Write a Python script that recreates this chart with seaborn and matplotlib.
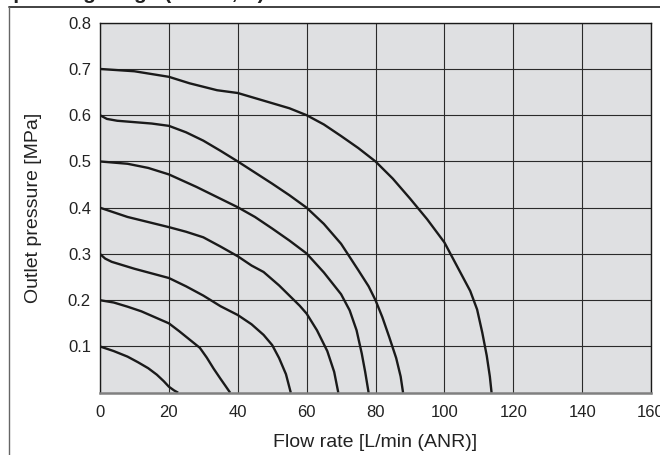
import pandas as pd
import seaborn as sns
import matplotlib.pyplot as plt
from matplotlib.lines import Line2D

# Curves: flow rate [L/min (ANR)] vs outlet pressure [MPa]
c07_x = [0, 10, 20, 26, 34, 40, 50, 55, 60, 65, 70, 75, 80, 85, 90, 95, 100, 102.5, 105, 107.5, 109.5, 111, 112.3, 113.2, 113.7]
c07_p = [0.70, 0.695, 0.683, 0.669, 0.654, 0.648, 0.626, 0.615, 0.600, 0.580, 0.555, 0.529, 0.500, 0.463, 0.420, 0.375, 0.325, 0.29, 0.255, 0.22, 0.18, 0.13, 0.08, 0.035, 0.0]

c06_x = [0, 2, 5, 10, 15, 20, 25, 30, 35, 40, 45, 50, 55, 60, 65, 70, 75, 78, 80, 82, 84, 86, 87.3, 88]
c06_p = [0.60, 0.592, 0.588, 0.585, 0.582, 0.577, 0.563, 0.545, 0.523, 0.50, 0.476, 0.452, 0.427, 0.40, 0.365, 0.322, 0.265, 0.23, 0.20, 0.163, 0.12, 0.075, 0.035, 0.0]

c05_x = [0, 8, 14, 20, 28, 34, 40, 45, 50, 55, 60, 65, 70, 72.5, 74.5, 76, 77, 78]
c05_p = [0.50, 0.495, 0.486, 0.472, 0.445, 0.423, 0.401, 0.38, 0.355, 0.329, 0.301, 0.26, 0.213, 0.178, 0.135, 0.085, 0.045, 0.0]

c04_x = [0, 4, 8, 14, 20, 25, 30, 35, 40, 44, 47.5, 52, 55, 58, 60, 63, 66, 68, 69.2]
c04_p = [0.40, 0.39, 0.38, 0.369, 0.358, 0.348, 0.336, 0.316, 0.295, 0.275, 0.261, 0.232, 0.21, 0.188, 0.171, 0.135, 0.09, 0.045, 0.0]

c03_x = [0, 1.5, 3.4, 10, 15, 20, 25, 30, 35, 40, 44, 47.5, 50, 52, 54, 55.4]
c03_p = [0.30, 0.29, 0.283, 0.268, 0.258, 0.248, 0.23, 0.21, 0.187, 0.168, 0.148, 0.125, 0.103, 0.075, 0.04, 0.0]

c02_x = [0, 4, 8, 12, 16, 20, 23, 26, 29, 31, 33, 35, 36.5, 37.8]
c02_p = [0.20, 0.195, 0.186, 0.176, 0.163, 0.15, 0.133, 0.115, 0.097, 0.076, 0.052, 0.03, 0.014, 0.0]

c01_x = [0, 4, 8, 11, 14, 16.5, 18.5, 20, 21.5, 22.7]
c01_p = [0.10, 0.09, 0.078, 0.066, 0.053, 0.039, 0.025, 0.013, 0.005, 0.0]

x_ticks = [0, 20, 40, 60, 80, 100, 120, 140, 160]
y_ticks = [0.1, 0.2, 0.3, 0.4, 0.5, 0.6, 0.7, 0.8]
y_tick_labels = ['0.1', '0.2', '0.3', '0.4', '0.5', '0.6', '0.7', '0.8']

curves = {'0.7': (c07_x, c07_p), '0.6': (c06_x, c06_p), '0.5': (c05_x, c05_p),
          '0.4': (c04_x, c04_p), '0.3': (c03_x, c03_p), '0.2': (c02_x, c02_p),
          '0.1': (c01_x, c01_p)}

frames = []
for name, (xs, ps) in curves.items():
    frames.append(pd.DataFrame({'flow': xs, 'pressure': ps, 'set': name}))
df = pd.concat(frames, ignore_index=True)

sns.set_theme(style='white')
plt.rcParams['font.family'] = ['Liberation Sans', 'DejaVu Sans']

fig = plt.figure(figsize=(6.6, 4.55), dpi=100)
ax = fig.add_axes([0.1515, 0.1369, 0.8349, 0.8132])
ax.set_facecolor('#dfe0e2')

sns.lineplot(data=df, x='flow', y='pressure', hue='set', units='set', estimator=None,
             sort=False, palette=['#1a1a1a'] * 7, linewidth=1.7, legend=False, ax=ax)
for l in ax.lines:
    l.set_solid_joinstyle('round')
    l.set_solid_capstyle('butt')

ax.set_xlim(0, 160)
ax.set_ylim(0, 0.8)
ax.set_xticks(x_ticks)
ax.set_yticks(y_ticks)
ax.set_yticklabels(y_tick_labels)
ax.grid(True, color='#2a2a2a', linewidth=0.8)
ax.set_axisbelow(True)
ax.tick_params(axis='x', length=0, pad=9, labelsize=12, colors='#222222')
ax.tick_params(axis='y', length=0, pad=6.5, labelsize=12, colors='#222222')

for s in ['top', 'right', 'left']:
    ax.spines[s].set_color('#1a1a1a')
    ax.spines[s].set_linewidth(1.0)
ax.spines['bottom'].set_color('#808080')
ax.spines['bottom'].set_linewidth(1.8)

ax.set_xlabel('Flow rate [L/min (ANR)]', fontsize=14, color='#222222', va='top')
ax.set_ylabel('Outlet pressure [MPa]', fontsize=14, color='#222222')
ax.xaxis.set_label_coords(0.5, -0.112)
ax.yaxis.set_label_coords(-0.105, 0.5)

# outer frame and clipped heading from the page
fig.add_artist(Line2D([9 / 660, 1.0], [1 - 7 / 455, 1 - 7 / 455], color='#333333', linewidth=1.3))
fig.add_artist(Line2D([9 / 660, 9 / 660], [0.0, 1 - 7 / 455], color='#666666', linewidth=1.0))
fig.text(-0.005, 1 + 1.0 / 455, 'Operating range (1 MPa, A)', fontsize=15, fontweight='bold',
         color='#222222', va='baseline', ha='left')

fig.savefig('out.png', dpi=100)
